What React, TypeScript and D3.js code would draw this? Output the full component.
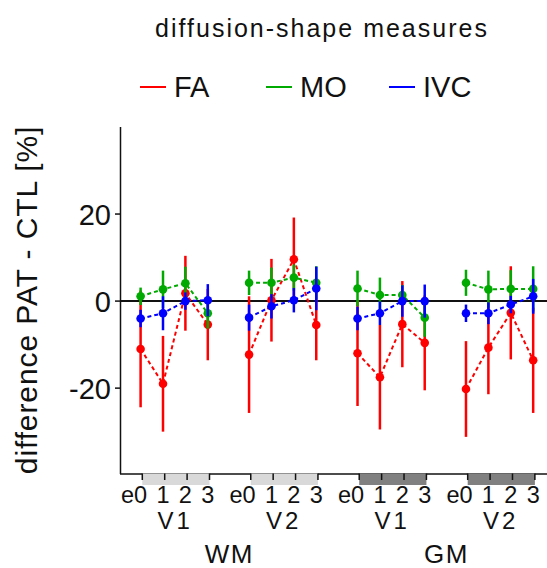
import React from "react";
import * as d3 from "d3";

const levels = ["e0", "1", "2", "3"];
const groupVisits = ["V1", "V2", "V1", "V2"];
const tissues = ["WM", "GM"];
const seriesNames = ["FA", "MO", "IVC"];
const seriesColors = ["#ff0000", "#00aa00", "#0000ff"];
const yTicks = [-20, 0, 20];

// values per group (WM V1, WM V2, GM V1, GM V2), 4 levels each
const faMean = [
  [-11.0, -19.0, 1.8, -5.4],
  [-12.3, 0.2, 9.6, -5.5],
  [-12.0, -17.5, -5.3, -9.6],
  [-20.2, -10.7, -2.7, -13.6],
];
const faErr = [
  [13.4, 11.0, 8.6, 8.2],
  [13.4, 9.5, 9.6, 8.1],
  [12.1, 12.0, 9.9, 10.9],
  [11.0, 10.7, 10.7, 12.1],
];
const moMean = [
  [1.1, 2.7, 4.1, -2.8],
  [4.2, 4.2, 5.4, 4.2],
  [2.9, 1.4, 1.4, -3.8],
  [4.2, 2.7, 2.8, 2.8],
];
const moErr = [
  [2.0, 4.3, 3.8, 3.5],
  [2.8, 3.5, 3.0, 3.8],
  [4.1, 4.0, 2.3, 4.4],
  [3.0, 4.3, 4.3, 5.2],
];
const ivcMean = [
  [-4.0, -2.8, 0.0, 0.2],
  [-3.8, -1.2, 0.2, 2.9],
  [-4.0, -2.8, 0.0, 0.0],
  [-2.8, -2.8, -0.8, 1.1],
];
const ivcErr = [
  [2.0, 3.9, 2.0, 3.7],
  [3.0, 2.8, 2.8, 5.0],
  [2.7, 2.7, 3.6, 3.8],
  [2.0, 2.5, 2.0, 4.0],
];

const means = [faMean, moMean, ivcMean];
const errs = [faErr, moErr, ivcErr];

const W = 547;
const H = 568;
const GROUP_STEP = 4.842; // in level units
const FONT = "'Liberation Sans', Arial, sans-serif";

export default function App() {
  const pos = (g: number, k: number) => g * GROUP_STEP + k;
  const x = d3
    .scaleLinear()
    .domain([0, pos(3, 3)])
    .range([140.6, 140.6 + pos(3, 3) * 22.4]);
  const y = d3.scaleLinear().domain([-39.5, 40]).range([473, 127]);
  const tickOff = 1.7;
  const axisY = 474;
  const line = d3
    .line<[number, number]>()
    .x((d) => d[0])
    .y((d) => d[1]);

  return (
    <svg
      width={W}
      height={H}
      style={{ position: "absolute", left: 0, top: 0, background: "#fff" }}
      fontFamily={FONT}
    >
      {/* title */}
      <text x={322} y={37} fontSize={25} letterSpacing={2} textAnchor="middle" fill="#111">
        diffusion-shape measures
      </text>
      {/* legend */}
      {seriesNames.map((s, i) => {
        const lx = [140, 266, 389][i];
        return (
          <g key={s}>
            <line x1={lx} x2={lx + 26} y1={87} y2={87} stroke={seriesColors[i]} strokeWidth={2} />
            <text x={lx + 34} y={97} fontSize={29} fill="#111">
              {s}
            </text>
          </g>
        );
      })}
      {/* y axis */}
      <line x1={120.5} x2={120.5} y1={127} y2={axisY} stroke="#111" strokeWidth={1.5} />
      {yTicks.map((t) => (
        <g key={t}>
          <line x1={115} x2={120.5} y1={y(t)} y2={y(t)} stroke="#111" strokeWidth={1.5} />
          <text x={111} y={y(t) + 10.5} fontSize={29} textAnchor="end" fill="#111">
            {t}
          </text>
        </g>
      ))}
      <text
        transform={`translate(37,300) rotate(-90)`}
        fontSize={30}
        letterSpacing={0.9}
        textAnchor="middle"
        fill="#111"
      >
        difference PAT - CTL [%]
      </text>
      {/* x axis */}
      <line x1={120} x2={W} y1={axisY} y2={axisY} stroke="#111" strokeWidth={1.5} />
      {groupVisits.map((v, g) => (
        <rect
          key={"r" + g}
          x={x(pos(g, 0)) + tickOff}
          width={x(pos(g, 3)) - x(pos(g, 0))}
          y={axisY - 0.5}
          height={11.5}
          fill={g < 2 ? "#d9d9d9" : "#808080"}
        />
      ))}
      {groupVisits.map((v, g) =>
        levels.map((l, k) => (
          <line
            key={"t" + g + k}
            x1={x(pos(g, k)) + tickOff}
            x2={x(pos(g, k)) + tickOff}
            y1={axisY - 0.5}
            y2={480}
            stroke="#111"
            strokeWidth={1.5}
          />
        ))
      )}
      {groupVisits.map((v, g) =>
        levels.map((l, k) =>
          l === "e0" ? (
            <text key={"l" + g + k} x={x(pos(g, k)) + 6.6} y={502.5} fontSize={23.5} textAnchor="end" fill="#111">
              {l}
            </text>
          ) : (
            <text key={"l" + g + k} x={x(pos(g, k))} y={502.5} fontSize={23.5} textAnchor="middle" fill="#111">
              {l}
            </text>
          )
        )
      )}
      {groupVisits.map((v, g) => (
        <text
          key={"v" + g}
          x={(x(pos(g, 0)) + x(pos(g, 3))) / 2 + 1}
          y={529}
          fontSize={24}
          letterSpacing={3}
          textAnchor="middle"
          fill="#111"
        >
          {v}
        </text>
      ))}
      {tissues.map((t, i) => (
        <text
          key={t}
          x={(x(pos(i * 2, 0)) + x(pos(i * 2 + 1, 3))) / 2 + 1}
          y={563}
          fontSize={26}
          letterSpacing={1.5}
          textAnchor="middle"
          fill="#111"
        >
          {t}
        </text>
      ))}
      {/* zero line */}
      <line x1={120.5} x2={W} y1={y(0)} y2={y(0)} stroke="#111" strokeWidth={2} />
      {/* data */}
      {seriesNames.map((s, si) => (
        <g key={s}>
          {means[si].map((row, g) =>
            row.map((m, k) => (
              <line
                key={"e" + g + k}
                x1={x(pos(g, k))}
                x2={x(pos(g, k))}
                y1={y(m + errs[si][g][k])}
                y2={y(m - errs[si][g][k])}
                stroke={seriesColors[si]}
                strokeWidth={2.5}
              />
            ))
          )}
          {means[si].map((row, g) => (
            <path
              key={"p" + g}
              d={line(row.map((m, k) => [x(pos(g, k)), y(m)] as [number, number])) || ""}
              fill="none"
              stroke={seriesColors[si]}
              strokeWidth={2}
              strokeDasharray="4,3"
            />
          ))}
          {means[si].map((row, g) =>
            row.map((m, k) => (
              <circle key={"c" + g + k} cx={x(pos(g, k))} cy={y(m)} r={4.3} fill={seriesColors[si]} />
            ))
          )}
        </g>
      ))}
    </svg>
  );
}
